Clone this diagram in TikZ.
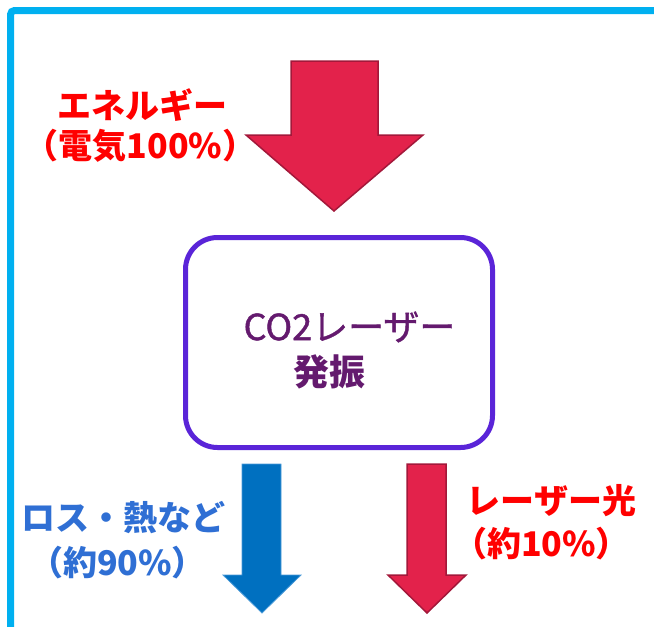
\documentclass[tikz,border=0pt]{standalone}
\usepackage{fontspec}
\newfontfamily\jp{Noto Sans CJK JP}
\newfontfamily\jpm{Noto Sans CJK JP}[FakeBold=1.2]
\definecolor{frame}{HTML}{00B0F0}
\definecolor{arrred}{HTML}{E3224B}
\definecolor{arrredline}{HTML}{A3183A}
\definecolor{arrblue}{HTML}{0070C0}
\definecolor{arrblueline}{HTML}{4A9AD8}
\definecolor{boxline}{HTML}{5A24D8}
\definecolor{boxtext}{HTML}{641A6E}
\definecolor{labred}{HTML}{FF0000}
\definecolor{labblue}{HTML}{2F6FD4}
\tikzset{
  redlabel/.style={text=labred, font=\jp\bfseries\fontsize{34}{40}\selectfont, inner sep=0pt},
  bluelabel/.style={text=labblue, font=\jp\bfseries\fontsize{34}{40}\selectfont, inner sep=0pt},
  boxlabel/.style={text=boxtext, font=\jpm\fontsize{36}{42}\selectfont, inner sep=0pt},
  redarrow/.style={fill=arrred, draw=arrredline, line width=1.5pt, line join=miter},
  bluearrow/.style={fill=arrblue, draw=arrblueline, line width=0.8pt, line join=miter},
}
\begin{document}
\begin{tikzpicture}[x=1pt, y=-1pt]
\useasboundingbox (0,0) rectangle (654,627);
% frame
\draw[frame, line width=7pt, rounded corners=4pt] (10.5,640) -- (10.5,10.5) -- (670,10.5);
% top arrow
\draw[redarrow] (291,61) -- (378,61) -- (378,135) -- (423,135) -- (334,211) -- (246,135) -- (291,135) -- cycle;
% box
\node[draw=boxline, line width=5pt, rounded corners=32pt, minimum width=307pt, minimum height=210pt, inner sep=0pt] (osc) at (339,342.5) {};
\node[boxlabel] (t1) at (349.5,327) {CO2レーザー};
\node[boxlabel, font=\jp\bfseries\fontsize{36}{42}\selectfont] (t2) at (329,372) {発振};
% bottom arrows
\draw[bluearrow] (242,464) -- (281,464) -- (281,575) -- (301,575) -- (262,613) -- (223,575) -- (242,575) -- cycle;
\draw[redarrow] (407,464) -- (446,464) -- (446,575) -- (466,575) -- (427,613) -- (388,575) -- (407,575) -- cycle;
% labels
\node[redlabel] (e1) at (142.5,105) {エネルギー};
\node[redlabel] (e2) at (140.5,146) {（電気100\%）};
\node[bluelabel] (l1) at (123.5,518) {ロス・熱など};
\node[bluelabel] (l2) at (117.5,563) {（約90\%）};
\node[redlabel] (r1) at (551.5,501) {レーザー光};
\node[redlabel] (r2) at (541.5,544) {（約10\%）};
\end{tikzpicture}
\end{document}
